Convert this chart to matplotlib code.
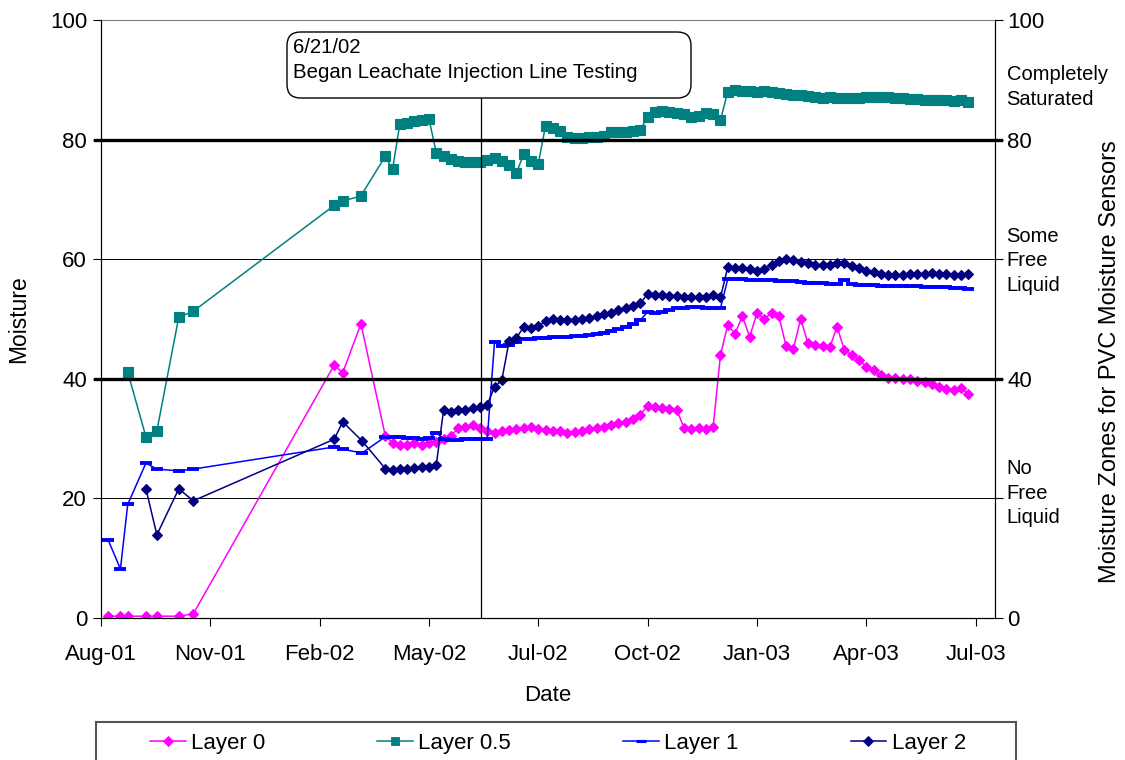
import pandas as pd
import numpy as np
import matplotlib
matplotlib.use("Agg")
from matplotlib import pyplot as plt
import matplotlib.dates as mdates
from matplotlib.patches import FancyBboxPatch, Rectangle
from matplotlib.lines import Line2D

plt.rcParams["font.family"] = ["Liberation Sans", "DejaVu Sans"]

# ---- manual readings (before the logger) ----
early_dates_0 = ["2001-08-11", "2001-08-21", "2001-08-27", "2001-09-11", "2001-09-20",
                 "2001-10-08", "2001-10-20", "2002-02-13", "2002-02-20", "2002-03-07"]
early_layer0 = [0.3, 0.3, 0.3, 0.3, 0.3, 0.3, 0.7, 42.3, 41.0, 49.2]

early_dates_05 = ["2001-08-27", "2001-09-11", "2001-09-20", "2001-10-08", "2001-10-20",
                  "2002-02-13", "2002-02-20", "2002-03-07"]
early_layer05 = [41.1, 30.3, 31.3, 50.3, 51.3, 69.0, 69.7, 70.6]

early_dates_1 = ["2001-08-11", "2001-08-21", "2001-08-27", "2001-09-11", "2001-09-20",
                 "2001-10-08", "2001-10-20", "2002-02-13", "2002-02-20", "2002-03-08"]
early_layer1 = [13.0, 8.2, 19.0, 25.9, 24.9, 24.6, 24.9, 28.6, 28.2, 27.6]

early_dates_2 = ["2001-09-11", "2001-09-20", "2001-10-08", "2001-10-20",
                 "2002-02-13", "2002-02-20", "2002-03-08"]
early_layer2 = [21.6, 13.9, 21.6, 19.6, 29.9, 32.8, 29.6]

# ---- logged readings (shared dates) ----
log_dates = [
    "2002-03-27", "2002-04-02", "2002-04-08", "2002-04-14", "2002-04-20", "2002-04-26",
    "2002-05-02", "2002-05-08", "2002-05-14", "2002-05-20", "2002-05-26", "2002-06-01",
    "2002-06-07", "2002-06-13", "2002-06-19", "2002-06-25", "2002-07-01", "2002-07-07",
    "2002-07-13", "2002-07-19", "2002-07-25", "2002-07-31", "2002-08-06", "2002-08-12",
    "2002-08-18", "2002-08-24", "2002-08-30", "2002-09-05", "2002-09-11", "2002-09-17",
    "2002-09-23", "2002-09-29", "2002-10-05", "2002-10-11", "2002-10-17", "2002-10-23",
    "2002-10-29", "2002-11-04", "2002-11-10", "2002-11-16", "2002-11-22", "2002-11-28",
    "2002-12-04", "2002-12-10", "2002-12-16", "2002-12-22", "2002-12-28", "2003-01-03",
    "2003-01-09", "2003-01-15", "2003-01-21", "2003-01-27", "2003-02-02", "2003-02-08",
    "2003-02-14", "2003-02-20", "2003-02-26", "2003-03-04", "2003-03-10", "2003-03-16",
    "2003-03-22", "2003-03-28", "2003-04-03", "2003-04-09", "2003-04-15", "2003-04-21",
    "2003-04-27", "2003-05-03", "2003-05-09", "2003-05-15", "2003-05-21", "2003-05-27",
    "2003-06-02", "2003-06-08", "2003-06-14", "2003-06-20", "2003-06-26", "2003-07-02",
    "2003-07-08", "2003-07-14", "2003-07-20"]

log_layer0 = [30.5, 29.3, 29.0, 29.0, 29.2, 29.0, 29.3, 29.5, 30.0, 30.5,
              31.7, 32.0, 32.2, 31.7, 31.3, 31.0, 31.2, 31.4, 31.6, 31.8,
              32.0, 31.6, 31.4, 31.2, 31.2, 31.0, 31.1, 31.3, 31.6, 31.8,
              32.0, 32.3, 32.6, 32.8, 33.2, 34.0, 35.5, 35.3, 35.1, 34.9,
              34.8, 31.8, 31.6, 31.7, 31.6, 32.0, 44.0, 49.0, 47.5, 50.5,
              47.0, 51.0, 50.0, 51.0, 50.5, 45.5, 45.0, 50.0, 46.0, 45.7,
              45.5, 45.3, 48.7, 44.8, 44.0, 43.2, 42.0, 41.4, 40.6, 40.1,
              40.1, 40.0, 39.9, 39.7, 39.4, 39.2, 38.6, 38.3, 38.1, 38.4,
              37.5]

log_layer05 = [77.2, 75.0, 82.6, 82.8, 83.1, 83.2, 83.5, 77.8, 77.2, 76.8,
               76.5, 76.2, 76.3, 76.3, 76.6, 77.0, 76.5, 75.8, 74.4, 77.6,
               76.5, 76.0, 82.3, 82.0, 81.5, 80.5, 80.3, 80.3, 80.4, 80.4,
               80.6, 81.2, 81.3, 81.3, 81.4, 81.6, 83.8, 84.6, 84.7, 84.6,
               84.5, 84.3, 83.8, 84.0, 84.4, 84.2, 83.3, 88.0, 88.3, 88.2,
               88.1, 88.0, 88.1, 88.0, 87.8, 87.6, 87.5, 87.4, 87.3, 87.1,
               87.0, 87.1, 87.0, 86.9, 87.0, 87.0, 87.1, 87.2, 87.2, 87.1,
               87.0, 86.9, 86.8, 86.8, 86.6, 86.7, 86.6, 86.6, 86.5, 86.6,
               86.3]

log_layer1 = [30.3, 30.3, 30.2, 30.1, 30.1, 30.0, 30.1, 31.0, 30.0, 29.8,
              29.8, 29.9, 29.9, 30.0, 30.0, 46.2, 45.5, 45.6, 46.2, 46.6,
              46.7, 46.8, 46.9, 47.0, 47.0, 47.0, 47.1, 47.2, 47.3, 47.5,
              47.7, 48.0, 48.4, 48.7, 49.1, 49.8, 51.2, 51.0, 51.2, 51.5,
              51.8, 51.9, 52.0, 52.0, 51.9, 51.9, 51.8, 56.7, 56.7, 56.7,
              56.6, 56.6, 56.5, 56.5, 56.4, 56.3, 56.3, 56.2, 56.1, 56.1,
              56.0, 55.9, 55.9, 56.5, 55.8, 55.7, 55.7, 55.7, 55.6, 55.6,
              55.6, 55.5, 55.5, 55.5, 55.4, 55.4, 55.3, 55.3, 55.2, 55.2,
              55.1]

log_layer2 = [25.0, 24.8, 25.0, 24.9, 25.1, 25.2, 25.3, 25.6, 34.7, 34.5,
              34.7, 34.8, 35.1, 35.3, 35.7, 38.6, 39.8, 46.3, 46.8, 48.7,
              48.5, 48.8, 49.6, 50.0, 49.8, 49.8, 49.9, 50.0, 50.2, 50.5,
              50.8, 51.0, 51.5, 51.8, 52.2, 52.6, 54.2, 54.0, 54.0, 53.8,
              53.8, 53.7, 53.7, 53.7, 53.7, 54.0, 53.6, 58.7, 58.6, 58.5,
              58.3, 58.0, 58.4, 59.0, 59.7, 60.1, 59.8, 59.6, 59.4, 59.1,
              59.0, 59.1, 59.3, 59.3, 58.8, 58.6, 58.1, 57.8, 57.6, 57.4,
              57.4, 57.4, 57.5, 57.6, 57.6, 57.7, 57.6, 57.6, 57.4, 57.4,
              57.5]

x_ticks = ["2001-08-05", "2001-11-03", "2002-02-01", "2002-05-02", "2002-07-31",
           "2002-10-29", "2003-01-27", "2003-04-27", "2003-07-26"]
x_range = ["2001-08-05", "2003-08-11"]
event_date = "2002-06-14"
event_text = "6/21/02\nBegan Leachate Injection Line Testing"
zone_labels = ["Completely\nSaturated", "Some\nFree\nLiquid", "No\nFree\nLiquid"]
zone_levels = [88.8, 59.7, 20.9]

series = [
    ("Layer 0", early_dates_0, early_layer0, log_layer0, "#FF00FF", "D", 5.6),
    ("Layer 0.5", early_dates_05, early_layer05, log_layer05, "#008080", "s", 6.8),
    ("Layer 1", early_dates_1, early_layer1, log_layer1, "#0000FF", "_", 8.0),
    ("Layer 2", early_dates_2, early_layer2, log_layer2, "#000080", "D", 5.6),
]

W, H = 1125, 760
fig = plt.figure(figsize=(W / 100, H / 100), dpi=100)
ax = fig.add_axes([101 / W, 1 - 618 / H, 894 / W, 598 / H])

handles = []
for name, ed, ev, lv, col, mk, ms in series:
    x = pd.to_datetime(ed + log_dates)
    y = ev + lv
    mew = 2.8 if mk == "_" else 0.8
    ax.plot(x, y, color=col, lw=1.1, marker=mk, ms=ms, mfc=col, mec=col,
            mew=mew, zorder=3)
    handles.append(Line2D([], [], color=col, lw=1.1, marker=mk, ms=ms * 0.85,
                          mfc=col, mec=col, mew=mew * 0.8))

ax.set_xlim(pd.to_datetime(x_range[0]), pd.to_datetime(x_range[1]))
ax.set_ylim(0, 100)
ax.set_xticks(pd.to_datetime(x_ticks))
ax.xaxis.set_major_formatter(mdates.DateFormatter("%b-%y"))
ax.set_yticks([0, 20, 40, 60, 80, 100])

# gridlines
for lvl in [20, 60]:
    ax.axhline(lvl, color="black", lw=0.7, zorder=1)
for lvl in [40, 80]:
    ax.axhline(lvl, xmin=-0.007, xmax=1.007, color="black", lw=2.4,
               zorder=6, clip_on=False)

# event line
ax.plot([pd.to_datetime(event_date)] * 2, [0, 87], color="black", lw=0.9, zorder=6)

for s in ["left", "right", "bottom"]:
    ax.spines[s].set_color("black")
ax.spines["top"].set_color("#808080")
ax.tick_params(axis="both", direction="out", length=6, width=0.8,
               labelsize=16, colors="black")
ax.tick_params(axis="x", pad=13)
ax.tick_params(axis="y", pad=4)
ax.set_xlabel("Date", fontsize=16, labelpad=14)
ax.set_ylabel("Moisture", fontsize=16.5, labelpad=14)

ax2 = ax.twinx()
ax2.set_ylim(0, 100)
ax2.set_yticks([0, 20, 40, 60, 80, 100])
ax2.set_yticklabels(["0", "", "40", "", "80", "100"])
ax2.tick_params(axis="y", direction="out", length=6, width=0.8,
                labelsize=16, pad=3)
ax2.spines["top"].set_visible(False)

for txt, lvl in zip(zone_labels, zone_levels):
    ax.text(1.013, lvl, txt, transform=ax.get_yaxis_transform(),
            ha="left", va="center", fontsize=14.5, linespacing=1.36)

fig.text(1110 / W, 1 - 362 / H, "Moisture Zones for PVC Moisture Sensors",
         rotation=90, ha="center", va="center", fontsize=17)

# annotation box
box = FancyBboxPatch((287 / W, 1 - 98 / H), 404 / W, 66 / H,
                     boxstyle="round,pad=0,rounding_size=0.012",
                     mutation_aspect=W / H, transform=fig.transFigure,
                     fc="white", ec="black", lw=1.0, zorder=10)
fig.patches.append(box)
fig.text(293 / W, 1 - 60 / H, event_text, ha="left", va="center",
         fontsize=14.7, linespacing=1.45, zorder=11)

# legend
frame = Rectangle((96 / W, -0.02), 920 / W, (760 - 722) / H + 0.02,
                  transform=fig.transFigure, fill=False, ec="#555555", lw=1.5)
fig.patches.append(frame)
fig.legend(handles, [s[0] for s in series], ncol=4, loc="center",
           bbox_to_anchor=(150 / W, 1 - 743 / H, 816 / W, 0.0), mode="expand",
           frameon=False, fontsize=16, handlelength=1.6, handletextpad=0.25,
           borderpad=0, borderaxespad=0)

fig.savefig("out.png", dpi=100)
